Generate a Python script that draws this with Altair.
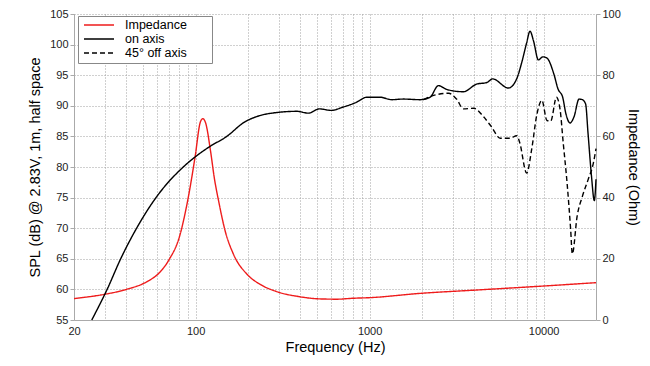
import altair as alt
import pandas as pd

# ---- data ----
series_names = ["Impedance", "on axis", "45° off axis"]

imp_freq = [20, 30, 40, 52, 62, 70, 81, 90, 99, 106.5, 110, 114, 122, 128, 136, 148,
            165, 197, 234, 292, 397, 515, 650, 800, 1000, 1950, 4125, 9960, 20000]
imp_ohm = [7.0, 8.4, 10.0, 12.4, 15.5, 19.5, 27.5, 39.0, 52.8, 64.7, 65.8, 64.5, 55.0,
           46.5, 38.5, 29.0, 21.5, 15.0, 11.7, 9.3, 7.6, 6.9, 6.8, 7.1, 7.3, 8.7, 9.8,
           11.1, 12.2]

on_freq = [25.3, 31, 37.1, 45.8, 59.2, 84.9, 101, 120, 151, 190, 234, 292, 381, 445,
           515, 600, 706, 843, 962, 1150, 1340, 1560, 1950, 2225, 2484, 2790, 3460,
           4125, 4720, 5090, 6270, 7000, 7490, 7990, 8350, 8750, 9330, 9900, 10450,
           11450, 12100, 12870, 13430, 14180, 14950, 15980, 16700, 17430, 18000, 18840,
           19560, 20000]
on_spl = [55.0, 60.0, 65.0, 70.0, 75.0, 80.0, 81.8, 83.3, 85.0, 87.3, 88.4, 88.9, 89.1,
          88.8, 89.5, 89.25, 89.8, 90.6, 91.4, 91.4, 91.0, 91.1, 91.0, 91.4, 93.3, 92.65,
          92.3, 93.55, 93.8, 94.4, 92.9, 94.4, 97.1, 100.3, 102.2, 100.6, 97.5, 98.0,
          97.8, 95.2, 92.75, 91.4, 88.7, 87.2, 88.2, 91.1, 91.0, 90.3, 85.5, 78.5, 74.5,
          78.0]

off_freq = [2040, 2330, 2850, 3160, 3460, 3970, 4520, 5020, 5630, 6410, 7000, 7270,
            7990, 8550, 9120, 9770, 10450, 10990, 11850, 12420, 12970, 13640, 14300,
            14620, 15590, 16700, 18000, 19300, 20000]
off_spl = [91.0, 91.7, 92.05, 91.1, 89.5, 89.6, 88.2, 86.55, 84.7, 84.7, 85.1, 84.1,
           79.0, 83.0, 88.4, 90.9, 87.6, 87.5, 91.4, 89.5, 83.85, 77.4, 69.8, 65.8,
           72.0, 75.2, 77.9, 80.6, 83.0]

x_grid = [20, 30, 40, 50, 60, 70, 80, 90, 100, 200, 300, 400, 500, 600, 700, 800, 900,
          1000, 2000, 3000, 4000, 5000, 6000, 7000, 8000, 9000, 10000, 20000]
x_labels = [20, 100, 1000, 10000]
spl_ticks = [55, 60, 65, 70, 75, 80, 85, 90, 95, 100, 105]
imp_ticks = [0, 20, 40, 60, 80, 100]

# ---- tables ----
imp_df = pd.DataFrame({"freq": imp_freq, "value": imp_ohm, "series": series_names[0]})
spl_df = pd.concat([
    pd.DataFrame({"freq": off_freq, "value": off_spl, "series": series_names[2]}),
    pd.DataFrame({"freq": on_freq, "value": on_spl, "series": series_names[1]}),
], ignore_index=True)

FONT = "Liberation Sans"
GRID = "#a0a0a0"
AXIS = "#aaaaaa"

label_test = " || ".join(f"datum.value == {v}" for v in x_labels)
x_enc = alt.X(
    "freq:Q",
    scale=alt.Scale(type="log", domain=[20, 20000], nice=False),
    axis=alt.Axis(
        values=x_grid,
        labelExpr=f"({label_test}) ? format(datum.value, 'd') : ''",
        title="Frequency (Hz)", labelFlush=False,
        grid=True, gridColor=GRID, gridDash=[1, 2], gridOpacity=1,
        ticks=False, labelPadding=5, titlePadding=4,
    ),
)

# trailing blank space (kept by a zero-width char) widens the legend box
legend = alt.Legend(
    orient="none", legendX=4, legendY=2, title=None,
    symbolType="stroke", symbolSize=900, symbolStrokeWidth=1.4, symbolOffset=2,
    labelFontSize=12.5, labelFont=FONT, labelColor="#000", labelOffset=10,
    labelExpr="datum.label + '\u2003\u2002\u2009\u200b'",
    clipHeight=12, rowPadding=1,
    strokeColor="#888888", fillColor="white", padding=3,
)
color_enc = alt.Color("series:N", scale=alt.Scale(domain=series_names,
                      range=["#ee1c1c", "#000000", "#000000"]), legend=legend)
dash_enc = alt.StrokeDash("series:N", scale=alt.Scale(domain=series_names,
                          range=[[1, 0], [1, 0], [5, 3]]), legend=legend)

imp_chart = alt.Chart(imp_df).mark_line(interpolate="monotone", strokeWidth=1.4).encode(
    x=x_enc,
    y=alt.Y("value:Q", scale=alt.Scale(domain=[0, 100], nice=False),
            axis=alt.Axis(orient="right", values=imp_ticks, title="Impedance (Ohm)",
                          grid=False, titlePadding=5)),
    color=color_enc, strokeDash=dash_enc,
)

spl_chart = alt.Chart(spl_df).mark_line(interpolate="monotone", strokeWidth=1.4).encode(
    x=x_enc,
    y=alt.Y("value:Q", scale=alt.Scale(domain=[55, 105], nice=False),
            axis=alt.Axis(orient="left", values=spl_ticks,
                          title="SPL (dB) @ 2.83V, 1m, half space",
                          grid=True, gridColor=GRID, gridDash=[1, 2], gridOpacity=1,
                          titlePadding=7)),
    color=color_enc, strokeDash=dash_enc,
    order=alt.Order("series:N"),
)

chart = alt.layer(imp_chart, spl_chart).resolve_scale(y="independent").properties(
    width=522, height=306,
    background="white",
    autosize=alt.AutoSizeParams(type="none"),
    padding={"left": 66, "top": 6, "right": 46, "bottom": 38},
).configure_view(stroke=None).configure_axis(
    domainColor=AXIS, tickColor=AXIS, tickSize=4,
    labelFont=FONT, labelFontSize=11, labelColor="#222",
    titleFont=FONT, titleFontSize=14.5, titleFontWeight="normal", titleColor="#000",
)

chart.save("out.html", embed_options={"renderer": "svg", "actions": False})
